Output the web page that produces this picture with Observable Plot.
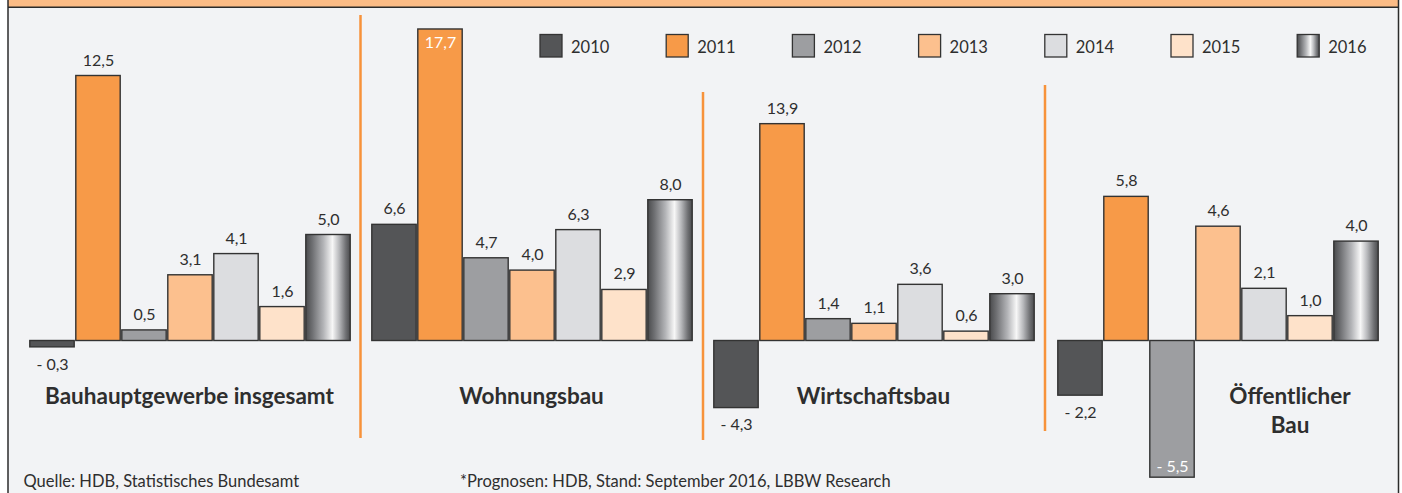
<!DOCTYPE html>
<html><head><meta charset="utf-8">
<script src="https://cdn.jsdelivr.net/npm/d3@7"></script>
<script src="https://cdn.jsdelivr.net/npm/@observablehq/plot@0.6"></script>
<style>
body{margin:0;background:#fff;}
#chart{position:relative;width:1402px;height:493px;overflow:hidden;font-family:Lato,"Open Sans",sans-serif;}
#chart svg{position:absolute;top:0;overflow:visible;}
</style></head><body><div id="chart"></div>
<script>
// ---- data ----
const years = ["2010","2011","2012","2013","2014","2015","2016"];
const categories = ["Bauhauptgewerbe insgesamt","Wohnungsbau","Wirtschaftsbau","Öffentlicher\nBau"];
const v2010 = [-0.3, 6.6, -4.3, -2.2];
const v2011 = [12.5, 17.7, 13.9, 5.8];
const v2012 = [0.5, 4.7, 1.4, -5.5];
const v2013 = [3.1, 4.0, 1.1, 4.6];
const v2014 = [4.1, 6.3, 3.6, 2.1];
const v2015 = [1.6, 2.9, 0.6, 1.0];
const v2016 = [5.0, 8.0, 3.0, 4.0];
const sourceLeft = "Quelle: HDB, Statistisches Bundesamt";
const sourceRight = "*Prognosen: HDB, Stand: September 2016, LBBW Research";
const series = [v2010, v2011, v2012, v2013, v2014, v2015, v2016];
const colors = ["#545557","#f79a48","#9d9ea1","#fcc08e","#dcdde0","#fee2ca","url(#grad2016)"];

// ---- layout ----
const W = 1402, H = 493;
const panelLeft = [27, 369, 711, 1055];
const panelWidth = 325;
const base = 340.5;
const pxPerUnit = [21.2, 17.6, 15.6, 24.85];
const titleX = [189.5, 531.5, 873.5, 1290];
const separators = [[360.5, 15, 438], [703, 92, 440], [1045, 85, 431]];
const textColor = "#2e2e2e";
const fmt = v => (v < 0 ? "- " : "") + Math.abs(v).toFixed(1).replace(".", ",");

const chart = d3.select("#chart");

// background svg
const bg = chart.append("svg").attr("width", W).attr("height", H).style("left", "0px");
const defs = bg.append("defs");
const g = defs.append("linearGradient").attr("id", "grad2016").attr("x1", "0").attr("x2", "1").attr("y1", "0").attr("y2", "0");
[[0,"#4a4b4d"],[0.15,"#6f7073"],[0.4,"#b4b5b8"],[0.6,"#f7f7f7"],[0.75,"#b8b9bc"],[0.9,"#707174"],[1,"#4a4b4d"]]
  .forEach(([o,c]) => g.append("stop").attr("offset", o).attr("stop-color", c));

bg.append("rect").attr("x", 8).attr("y", 0).attr("width", 1390).attr("height", 7).attr("fill", "#fcbc86");
bg.append("rect").attr("x", 8).attr("y", 8).attr("width", 1390).attr("height", H - 8).attr("fill", "#f2f3f5");
bg.append("line").attr("x1", 8).attr("x2", 1399).attr("y1", 7.3).attr("y2", 7.3).attr("stroke", "#2b2b2b").attr("stroke-width", 1.5);
bg.append("line").attr("x1", 8).attr("x2", 8).attr("y1", 0).attr("y2", H).attr("stroke", "#2b2b2b").attr("stroke-width", 1.5);
bg.append("line").attr("x1", 1398.5).attr("x2", 1398.5).attr("y1", 0).attr("y2", H).attr("stroke", "#2b2b2b").attr("stroke-width", 1.5);

separators.forEach(([x, y1, y2]) => bg.append("line").attr("x1", x).attr("x2", x).attr("y1", y1).attr("y2", y2)
  .attr("stroke", "#f7923a").attr("stroke-width", 2.5));

// titles
categories.forEach((c, i) => {
  const t = bg.append("text").attr("x", titleX[i]).attr("y", 404).attr("text-anchor", "middle")
    .attr("font-size", 22.5).attr("font-weight", 700).attr("fill", textColor);
  c.split("\n").forEach((line, j) => t.append("tspan").attr("x", titleX[i]).attr("dy", j ? 29 : 0).text(line));
});

// legend
years.forEach((y, j) => {
  const x0 = 540 + j * 126.2;
  bg.append("rect").attr("x", x0).attr("y", 34.5).attr("width", 22).attr("height", 22.5)
    .attr("fill", colors[j]).attr("stroke", "#333").attr("stroke-width", 1.3);
  bg.append("text").attr("x", x0 + 31).attr("y", 53.3).attr("font-size", 16.5).attr("fill", textColor).text(y);
});

// sources
bg.append("text").attr("x", 23.5).attr("y", 486.7).attr("font-size", 16.5).attr("fill", textColor).text(sourceLeft);
bg.append("text").attr("x", 460).attr("y", 486.7).attr("font-size", 16.5).attr("fill", textColor).text(sourceRight);

// panels
categories.forEach((c, i) => {
  const k = pxPerUnit[i];
  const data = years.map((y, j) => ({year: y, value: series[j][i]}));
  const pix = v => base - v * k;
  const inside = d => d.value >= 0 ? pix(d.value) - 22 < 20 : pix(d.value) + 22 > 480;
  const outPos = data.filter(d => !inside(d) && d.value >= 0);
  const outNeg = data.filter(d => !inside(d) && d.value < 0);
  const inPos = data.filter(d => inside(d) && d.value >= 0);
  const inNeg = data.filter(d => inside(d) && d.value < 0);
  const txt = {x: "year", y: "value", text: d => fmt(d.value), textAnchor: "middle"};
  const plot = Plot.plot({
    width: panelWidth, height: H, margin: 0,
    x: {type: "band", domain: years, range: [0, panelWidth], padding: 0, axis: null},
    y: {domain: [0, 10], range: [base, base - 10 * k], axis: null},
    color: {domain: years, range: colors},
    style: {background: "transparent", overflow: "visible", fontFamily: "Lato, 'Open Sans', sans-serif", fontSize: "16px", maxWidth: "none"},
    marks: [
      Plot.barY(data, {x: "year", y: "value", fill: "year", stroke: "#333", strokeWidth: 1.4, insetLeft: 0.8, insetRight: 0.8}),
      Plot.text(outPos, {...txt, lineAnchor: "bottom", dy: -10.5, fill: textColor}),
      Plot.text(outNeg, {...txt, lineAnchor: "top", dy: 11, fill: textColor}),
      Plot.text(inPos, {...txt, lineAnchor: "top", dy: 7.5, fill: "#ffffff"}),
      Plot.text(inNeg, {...txt, lineAnchor: "bottom", dy: -6, fill: "#ffffff"})
    ]
  });
  plot.style.position = "absolute";
  plot.style.left = panelLeft[i] + "px";
  plot.style.top = "0px";
  chart.node().appendChild(plot);
});
</script></body></html>
